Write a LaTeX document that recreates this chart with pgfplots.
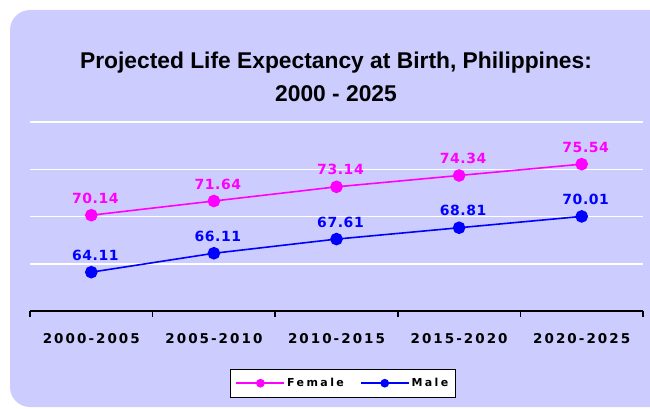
\documentclass[border=0pt]{standalone}
\usepackage{pgfplots}
\pgfplotsset{compat=1.18}
\usepackage{fontspec}
\setmainfont{Liberation Sans}
\newfontfamily\lblfont{DejaVu Sans}[LetterSpace=4]
\newfontfamily\tickfont{DejaVu Sans}[LetterSpace=15]
\newfontfamily\legfont{DejaVu Sans}[LetterSpace=22]
\definecolor{bg}{HTML}{CCCCFF}
\definecolor{fem}{HTML}{FF00FF}
\definecolor{mal}{HTML}{0000FF}
\begin{document}
\begin{tikzpicture}
\useasboundingbox (0,0) rectangle (650pt,408pt);
\fill[bg, rounded corners=20pt] (10pt,1pt) rectangle (690pt,398pt);
\node[font=\bfseries\fontsize{22.8}{26}\selectfont, anchor=base, inner sep=0pt] at (336pt,340pt) {Projected Life Expectancy at Birth, Philippines:};
\node[font=\bfseries\fontsize{22.8}{26}\selectfont, anchor=base, inner sep=0pt] at (336pt,306.3pt) {2000 - 2025};
\begin{axis}[
  scale only axis, width=613pt, height=189pt,
  at={(30pt,97pt)}, anchor=south west,
  clip=false,
  xmin=-0.5, xmax=4.5, ymin=60, ymax=80,
  axis x line*=bottom,
  y axis line style={draw=none},
  x axis line style={black, line width=1.5pt},
  ytick={65,70,75}, yticklabels={},
  ymajorgrids, y grid style={white, line width=1.5pt},
  extra y ticks={80}, extra y tick labels={},
  extra y tick style={grid style={white!45!bg, line width=1pt}},
  xtick={0,1,2,3,4},
  xticklabels={2000-2005,2005-2010,2010-2015,2015-2020,2020-2025},
  major tick length=0pt,
  minor xtick={-0.5,0.5,1.5,2.5,3.5,4.5},
  minor tick length=6pt,
  xtick align=outside,
  tick style={black, line width=1.5pt},
  xticklabel style={font=\tickfont\bfseries\fontsize{13.5}{15}\selectfont, anchor=base, inner sep=0pt, yshift=-32pt},
  point meta=explicit symbolic,
  nodes near coords,
  every node near coord/.append style={font=\lblfont\bfseries\fontsize{14}{16}\selectfont, anchor=base, inner sep=0pt, yshift=12pt, xshift=4pt},
  legend columns=2,
  legend style={at={(0.5106,-0.382)}, anchor=center, draw=black, line width=1pt, fill=white,
    inner xsep=5pt, inner ysep=7pt,
    font=\legfont\bfseries\fontsize{11}{13}\selectfont,
    /tikz/every even column/.append style={column sep=14pt}},
  legend image code/.code={\draw[#1, mark size=3.5pt, mark repeat=2, mark phase=2] plot coordinates {(0pt,0pt) (24pt,0pt) (48pt,0pt)};},
]
\addplot[fem, line width=1.6pt, mark=*, mark size=5.5pt, every node near coord/.append style={text=fem}]
 coordinates {(0,70.14) [70.14] (1,71.64) [71.64] (2,73.14) [73.14] (3,74.34) [74.34] (4,75.54) [75.54]};
\addlegendentry{Female}
\addplot[mal, line width=1.6pt, mark=*, mark size=5.5pt, every node near coord/.append style={text=mal}]
 coordinates {(0,64.11) [64.11] (1,66.11) [66.11] (2,67.61) [67.61] (3,68.81) [68.81] (4,70.01) [70.01]};
\addlegendentry{Male}
\end{axis}
\end{tikzpicture}
\end{document}
